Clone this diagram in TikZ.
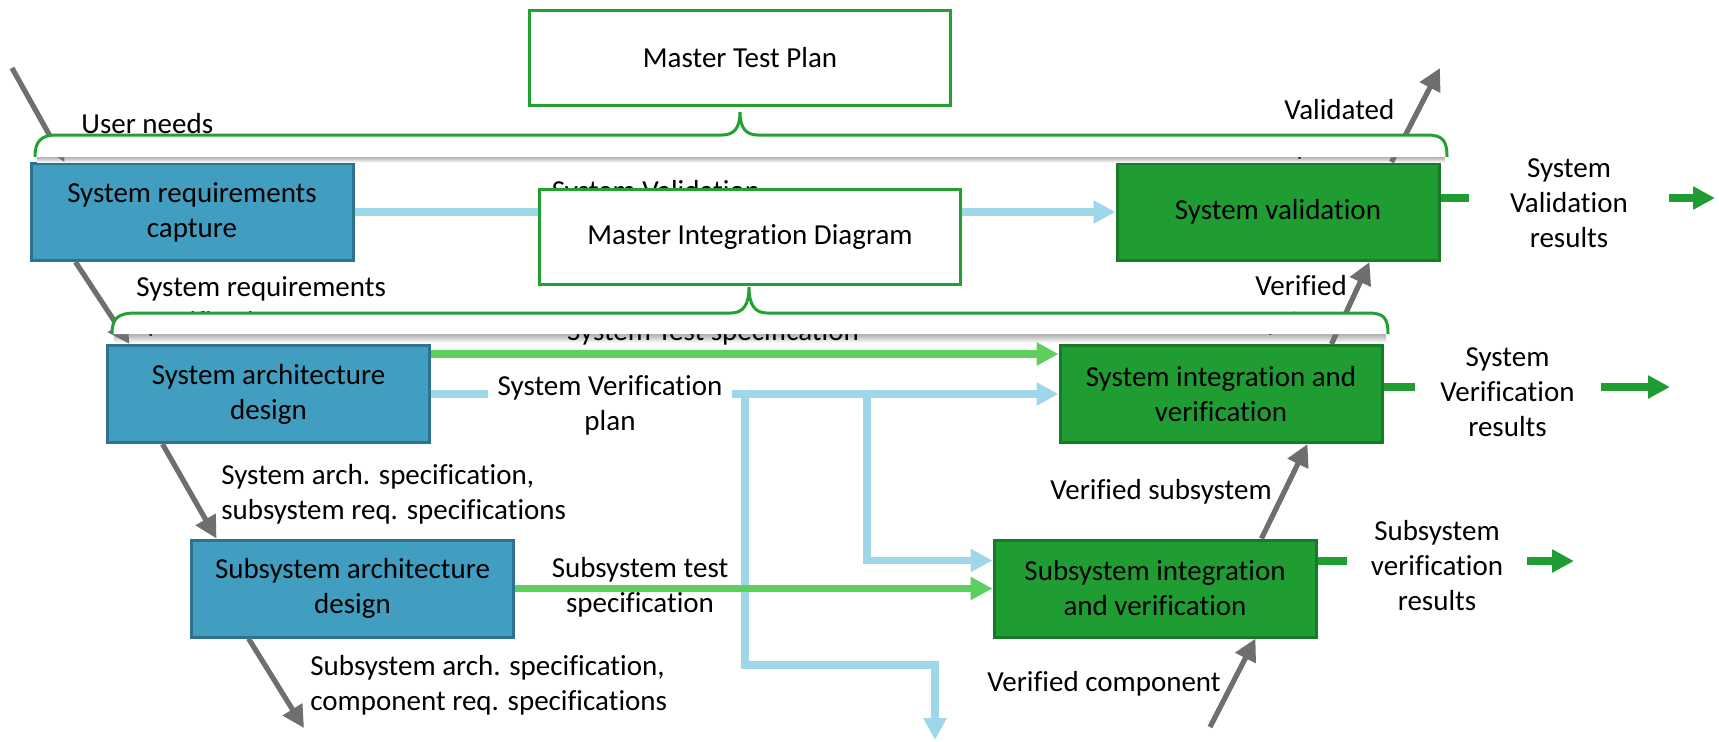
\documentclass[tikz,border=0pt]{standalone}
\usepackage{fontspec}
\setmainfont{Carlito}[Ligatures=NoCommon]
\usetikzlibrary{arrows.meta}

\definecolor{reqblue}{RGB}{65,158,192}
\definecolor{reqborder}{RGB}{47,114,144}
\definecolor{intgreen}{RGB}{31,157,51}
\definecolor{intborder}{RGB}{23,122,39}
\definecolor{planblue}{RGB}{158,214,234}
\definecolor{specgreen}{RGB}{92,207,92}
\definecolor{bracegreen}{RGB}{34,160,50}
\definecolor{flowgrey}{RGB}{111,111,111}

\begin{document}
\begin{tikzpicture}[x=0.5pt,y=-0.5pt,
	every node/.style={font=\fontsize{14.5}{17.5}\selectfont,align=center},
	reqbox/.style={draw=reqborder,fill=reqblue,line width=1.5pt,minimum width=161pt,minimum height=48.5pt},
	intbox/.style={draw=intborder,fill=intgreen,line width=1.5pt,minimum width=161pt,minimum height=48.5pt},
	planbox/.style={draw=bracegreen,fill=white,line width=1.6pt,minimum width=210.5pt,minimum height=47.5pt},
	lbl/.style={inner sep=1pt,align=left},
	brace/.style={draw=bracegreen,fill=white,line width=1.5pt},
	braceshadow/.style={top color=black!32,bottom color=white},
	flow/.style={draw=flowgrey,line width=2.6pt,-{Triangle[length=11pt,width=11pt]}},
	planarrow/.style={draw=planblue,line width=3.8pt,-{Triangle[length=11pt,width=11pt]}},
	specarrow/.style={draw=specgreen,line width=3.6pt,-{Triangle[length=11pt,width=11pt]}},
	resultarrow/.style={draw=intgreen,line width=4pt,-{Triangle[length=11pt,width=11pt]}},
	resultlbl/.style={fill=white,inner sep=0pt}]
	\useasboundingbox (0,0) rectangle (1719,741);

	\node[reqbox] (src) at (192,212) {System requirements\\capture};
	\node[reqbox] (sad) at (268.5,394) {System architecture\\design};
	\node[reqbox] (subad) at (352.5,588.5) {Subsystem architecture\\design};
	\node[intbox] (sv) at (1278,212) {System validation};
	\node[intbox] (siv) at (1221,394) {System integration and\\verification};
	\node[intbox] (subiv) at (1155,588.5) {Subsystem integration\\and verification};

	\shade[braceshadow] (37,157) rectangle (1445,162.5);
	\shade[braceshadow] (114,334) rectangle (1386,343);

	\coordinate (un) at (12,68);
	\coordinate (vs) at (1440,68);
	\draw[flow] (un) -- ([xshift=17.5pt]src.north west);
	\draw[flow] ([xshift=23pt]src.south west) -- ([xshift=11.75pt]sad.north west);
	\draw[flow] ([xshift=136.5pt]siv.north west) -- ([xshift=127pt]sv.south west);
	\draw[flow] ([xshift=138pt]sv.north west) -- (vs);
	\node[lbl,anchor=west] (srsl) at (134,306) {System requirements\\specification};
	\node[lbl,anchor=west] (vsysl) at (1253,305) {Verified\\system};
	\node[lbl,anchor=west] (valsl) at (1282,129) {Validated\\system};
	\node[lbl] (tsl) at (713,333) {System Test specification};

	\draw[planarrow] (src) -- (sv);
	\node[fill=white,inner sep=1pt] (svpl) at (656,210) {System Validation\\plan};

	\draw[brace] (35,157) .. controls (35,141) and (41,135) .. (57,135) -- (722,135) .. controls (734,135) and (740,128) .. (740,112) .. controls (740,128) and (746,135) .. (758,135) -- (1427,135) .. controls (1443,135) and (1447,141) .. (1447,157);
	\node[planbox] (mtp) at (740,58) {Master Test Plan};
	\draw[brace] (112,334) .. controls (112,318) and (118,313) .. (136,313) -- (731,313) .. controls (743,313) and (749,305) .. (749,287) .. controls (749,305) and (755,313) .. (767,313) -- (1368,313) .. controls (1384,313) and (1388,318) .. (1388,334);
	\node[planbox] (mid) at (750,237) {Master Integration Diagram};
	\node[lbl,anchor=west] (unl) at (79,124) {User needs};

	\coordinate (cr) at (304,728);
	\coordinate (vc) at (1210,727);
	\draw[flow] ([xshift=28.25pt]sad.south west) -- ([xshift=13.25pt]subad.north west);
	\draw[flow] ([xshift=29.25pt]subad.south west) -- (cr);
	\draw[flow] (vc) -- ([xshift=131.5pt]subiv.south west);
	\draw[flow] ([xshift=134.5pt]subiv.north west) -- ([xshift=124.5pt]siv.south west);
	\node[lbl,anchor=west] (sasl) at (219,494.5) {System arch. specification,\\subsystem req. specifications};
	\node[lbl,anchor=west] (subasl) at (308,685) {Subsystem arch. specification,\\component req. specifications};
	\node[lbl,anchor=west] (vcl) at (985,684) {Verified component};
	\node[lbl,anchor=west] (vsl) at (1048,492) {Verified subsystem};

	\coordinate (vb1) at (745,394);
	\coordinate (vb2) at (867,394);
	\coordinate (vbend) at (935,740);
	\draw[planarrow] (sad) -- (siv);
	\node[fill=white,inner xsep=5pt,inner ysep=1pt] (svvp) at (610,405) {System Verification\\plan};
	\draw[planarrow] (vb1) |- ++(190,271) -- (vbend);
	\draw[planarrow] (vb2) |- ([yshift=14pt]subiv.west);

	\draw[specarrow] ([yshift=20pt]sad.east) -- ([yshift=20pt]siv.west);
	\draw[specarrow] (subad) -- (subiv);
	\node[lbl,align=center] (stsl) at (640,587) {Subsystem test\\specification};

	\coordinate (svout) at (1715,198);
	\coordinate (sivout) at (1670,387);
	\coordinate (subivout) at (1574,561);
	\draw[resultarrow] ([yshift=7pt]sv.east) -- (svout);
	\node[resultlbl,minimum width=100pt] (svr) at (1569,203) {System\\Validation\\results};
	\draw[resultarrow] ([yshift=3.5pt]siv.east) -- (sivout);
	\node[resultlbl,minimum width=93pt] (sivr) at (1507.5,392) {System\\Verification\\results};
	\draw[resultarrow] ([yshift=13.75pt]subiv.east) -- (subivout);
	\node[resultlbl,minimum width=90pt] (subivr) at (1437,566) {Subsystem\\verification\\results};
\end{tikzpicture}
\end{document}
